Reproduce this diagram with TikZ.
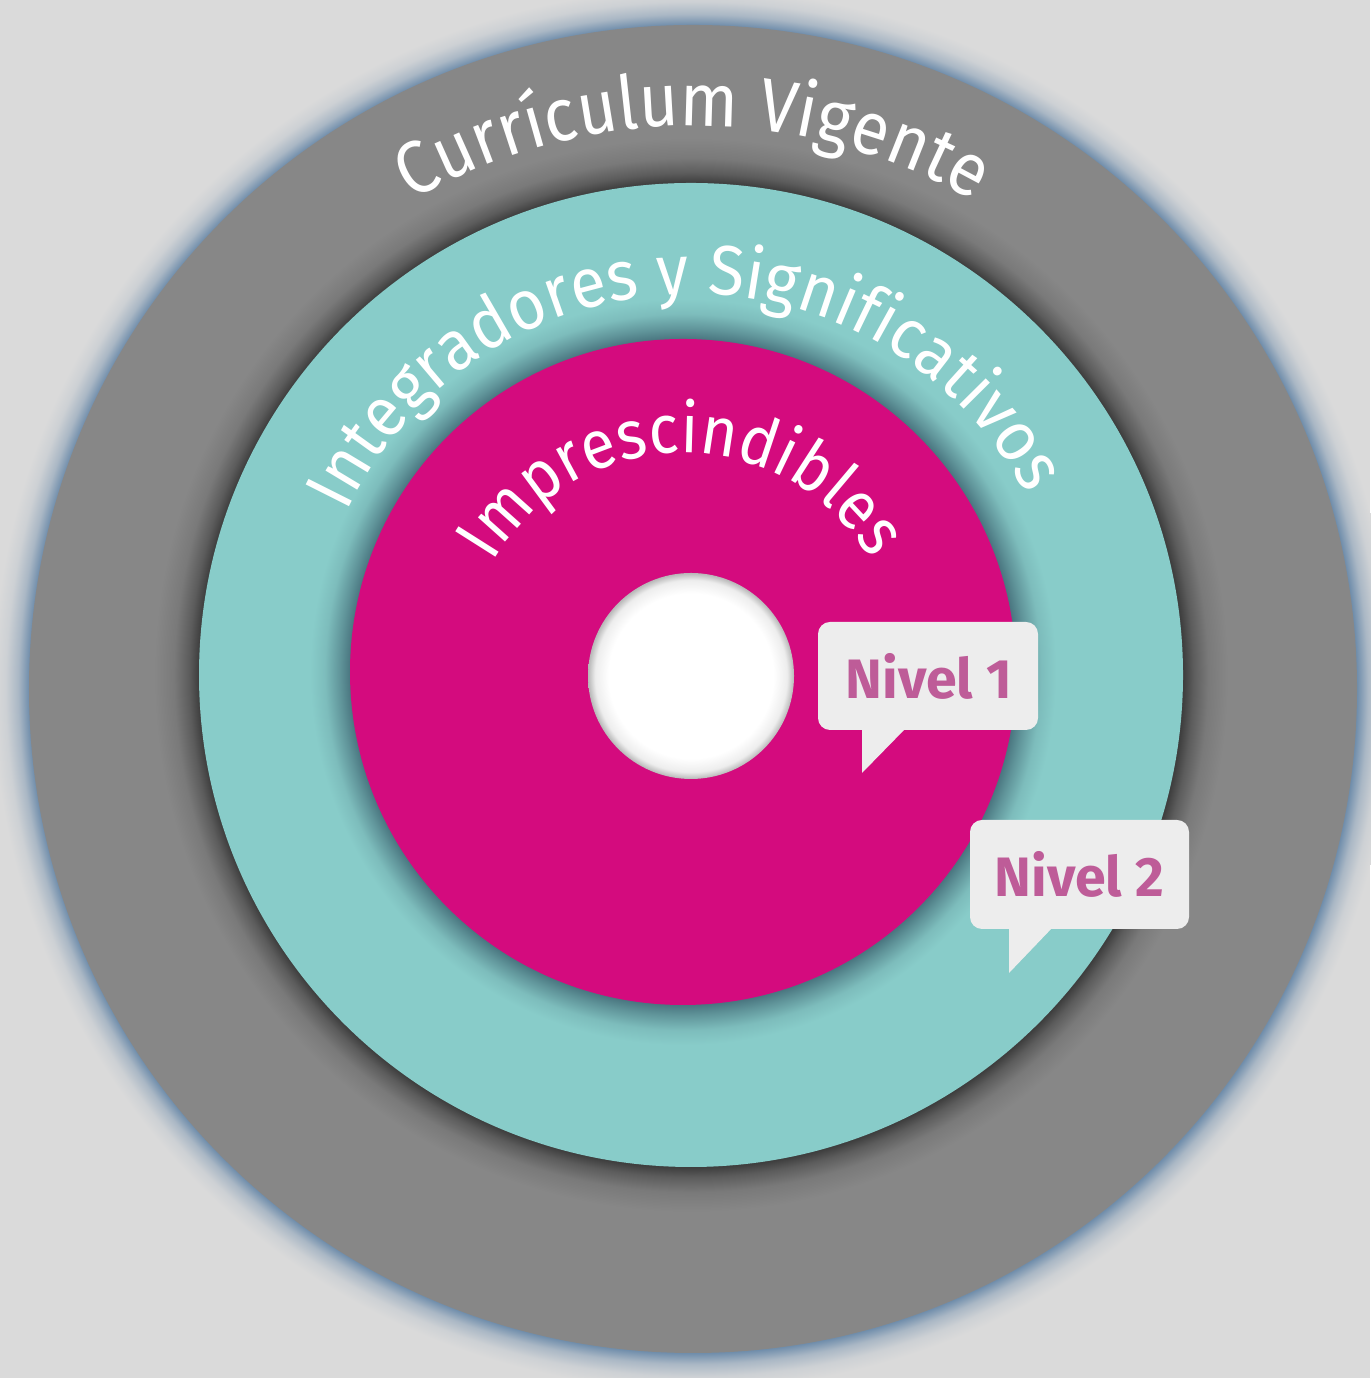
\documentclass[tikz,border=0pt]{standalone}
\usepackage{fontspec}
\setmainfont{Fira Sans}
\newfontfamily\arcA[FakeStretch=0.91]{Fira Sans}
\newfontfamily\arcB[FakeStretch=0.93]{Fira Sans}
\newfontfamily\arcC[FakeStretch=0.91]{Fira Sans}
\usetikzlibrary{decorations.text}
\definecolor{bg}{HTML}{DADADA}
\definecolor{ringgray}{HTML}{878787}
\definecolor{tealring}{HTML}{88CCC9}
\definecolor{magring}{HTML}{D40B7E}
\definecolor{bubble}{HTML}{EDEDED}
\definecolor{bubtext}{HTML}{BE5C98}
\definecolor{glowblue}{HTML}{6F8DAB}
\definecolor{shadowteal}{HTML}{4A7680}
% TikZ maps the path's bounding box onto the inner 50bp of the shading: radius = 25bp
\pgfdeclareradialshading{outerglow}{\pgfpoint{0bp}{0bp}}{%
 color(0bp)=(glowblue); color(23.71bp)=(glowblue); color(24.1bp)=(glowblue!45!bg);
 color(24.55bp)=(glowblue!12!bg); color(25bp)=(bg); color(50bp)=(bg)}
\pgfdeclareradialshading{tealshadow}{\pgfpoint{0bp}{0bp}}{%
 color(0bp)=(ringgray!45!black); color(22.9bp)=(ringgray!45!black);
 color(23.37bp)=(ringgray!68!black); color(24.07bp)=(ringgray!90!black); color(25bp)=(ringgray); color(50bp)=(ringgray)}
\pgfdeclareradialshading{magshadow}{\pgfpoint{0bp}{0bp}}{%
 color(0bp)=(shadowteal); color(22.32bp)=(shadowteal);
 color(22.99bp)=(shadowteal!65!tealring); color(24.0bp)=(shadowteal!18!tealring); color(25bp)=(tealring); color(50bp)=(tealring)}
\pgfdeclareradialshading{whitehole}{\pgfpoint{0bp}{0bp}}{%
 color(0bp)=(white); color(20bp)=(white); color(23.3bp)=(black!7); color(25bp)=(black!28); color(50bp)=(black!28)}
\tikzset{
  bubblebox/.style={fill=bubble, rounded corners=0.12cm},
  nivel/.style={text=bubtext, font=\bfseries\fontsize{15.8}{18}\selectfont, inner sep=0pt},
}
\begin{document}
\begin{tikzpicture}
\useasboundingbox (0,0) rectangle (13.70,13.78);
\fill[bg] (0,0) rectangle (13.70,13.78);
\coordinate (gc) at (6.93,6.89);
\coordinate (tc) at (6.91,7.03);
\coordinate (mc) at (6.83,7.06);
\coordinate (wc) at (6.91,7.02);
% rings
\shade[shading=outerglow] (gc) circle[radius=7.00cm];
\fill[ringgray] (gc) circle[radius=6.64cm];
\shade[shading=tealshadow] (tc) circle[radius=5.37cm];
\fill[tealring] (tc) circle[radius=4.92cm];
\shade[shading=magshadow] (mc) circle[radius=3.73cm];
\fill[magring] (mc) circle[radius=3.33cm];
\shade[shading=whitehole] (wc) circle[radius=1.03cm];
% arc texts
\path[decorate, decoration={text along path, text align=center, text color=white,
    text={|\arcA\fontsize{21.3}{24}\selectfont|Currículum Vigente}}]
  ([shift={(170:5.63)}]gc) arc[start angle=170, end angle=10, radius=5.63cm];
\path[decorate, decoration={text along path, text align=center, text color=white,
    text={|\arcB\fontsize{20}{22}\selectfont|Integradores y Significativos}}]
  ([shift={(181.5:3.81)}]tc) arc[start angle=181.5, end angle=1.5, radius=3.81cm];
\path[decorate, decoration={text along path, text align=center, text color=white,
    text={|\arcC\fontsize{19.6}{22}\selectfont|Imprescindibles}}]
  ([shift={(180.5:2.19)}]mc) arc[start angle=180.5, end angle=0.5, radius=2.19cm];
% callouts
\fill[bubblebox] (8.18,6.48) rectangle (10.38,7.56);
\fill[bubble] (8.62,6.50) -- (8.62,6.05) -- (9.06,6.50) -- cycle;
\node[nivel] (n1) at (9.29,7.02) {Nivel 1};
\fill[bubblebox] (9.70,4.49) rectangle (11.89,5.58);
\fill[bubble] (10.09,4.51) -- (10.09,4.05) -- (10.53,4.51) -- cycle;
\node[nivel] (n2) at (10.795,5.035) {Nivel 2};
\end{tikzpicture}
\end{document}
